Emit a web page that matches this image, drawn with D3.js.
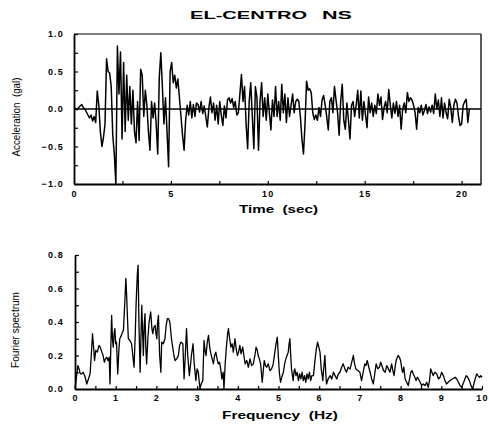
<!DOCTYPE html>
<html><head><meta charset="utf-8">
<script src="https://cdn.jsdelivr.net/npm/d3@7/dist/d3.min.js"></script>
<style>body{margin:0;background:#fff}svg{display:block}</style>
</head><body><svg id="c" width="489" height="425"></svg>
<script>
// ---- data ----
const titleParts = ["EL-CENTRO", "NS"];
const accelDt = 0.08; // sec between samples
const accelValues = [
 0,0.01,-0.01,0.02,0.04,0.06,0.02,0.0,-0.04,-0.08,
 -0.12,-0.08,-0.16,-0.1,-0.18,0.24,0.05,-0.3,-0.5,-0.38,
 -0.2,0.67,0.5,0.48,0.3,-0.35,-0.6,-1.0,0.84,0.2,
 0.76,-0.4,0.62,-0.3,0.45,-0.15,0.3,-0.2,0.25,-0.3,
 -0.45,0.1,-0.42,0.53,0.45,-0.1,0.25,0.05,-0.3,-0.55,
 0.1,-0.12,0.08,-0.2,-0.6,0.42,0.75,0.3,-0.2,0.15,
 -0.3,-0.77,0.5,0.62,0.35,0.45,0.28,0.4,0.15,-0.1,
 -0.35,-0.55,-0.15,0.05,-0.08,0.1,-0.12,0.06,-0.1,0.08,
 0.06,-0.04,0.1,-0.06,0.04,-0.1,-0.24,0.02,0.16,-0.05,
 0.08,-0.15,0.05,-0.2,0.1,-0.08,-0.22,0.04,-0.12,0.12,
 0.15,0.08,0.14,0.02,0.1,-0.08,-0.05,0.2,0.46,0.1,
 0.3,-0.2,-0.53,0.1,0.35,-0.1,-0.53,0.3,0.15,-0.55,
 0.1,0.35,-0.1,0.15,-0.15,0.2,-0.05,-0.28,0.12,-0.1,
 0.3,-0.1,0.1,-0.15,0.33,-0.05,0.2,-0.18,0.15,-0.1,
 0.05,0.2,-0.05,0.1,0.13,0.1,-0.1,-0.4,-0.6,-0.2,
 0.37,0.25,0.27,0.22,-0.05,-0.14,-0.08,-0.15,0.02,-0.1,
 0.12,0.18,0.05,-0.1,-0.28,0.1,0.15,-0.05,0.3,0.12,
 -0.05,-0.35,0.1,0.33,-0.15,-0.27,0.08,-0.15,-0.4,0.05,
 0.1,-0.1,0.05,0.25,-0.12,0.24,-0.15,0.1,-0.08,-0.25,
 0.16,-0.05,0.08,-0.1,0.05,-0.06,0.2,0.05,0.16,-0.14,
 0.02,0.1,-0.05,0.26,0.05,-0.12,0.08,-0.06,0.1,-0.1,
 0.05,-0.27,0.0,0.08,-0.05,0.22,0.1,0.15,0.12,0.05,
 -0.05,-0.27,0.02,-0.05,0.05,-0.08,-0.02,0.06,-0.06,0.03,
 -0.04,0.05,-0.06,0.2,0.0,0.12,-0.1,0.15,-0.12,0.08,
 -0.05,-0.13,0.13,0.02,-0.18,0.05,0.13,0.08,-0.1,-0.22,
 -0.2,0.05,0.1,0.13,-0.18,0.0
];
const specFreq = [
 0,0.03,0.07,0.1,0.13,0.16,0.2,0.25,0.29,0.33,0.37,0.4,0.43,0.46,0.48,0.51,0.55,0.59,0.62,0.66,
 0.69,0.72,0.75,0.78,0.81,0.84,0.86,0.88,0.9,0.92,0.94,0.96,0.98,1.0,1.02,1.05,1.08,1.1,1.14,1.17,
 1.19,1.22,1.25,1.27,1.29,1.31,1.35,1.39,1.42,1.45,1.48,1.5,1.53,1.55,1.57,1.6,1.62,1.64,1.66,1.68,
 1.7,1.72,1.74,1.76,1.79,1.82,1.84,1.86,1.89,1.91,1.94,1.97,1.99,2.01,2.03,2.05,2.08,2.11,2.13,2.17,
 2.21,2.24,2.27,2.3,2.33,2.37,2.4,2.43,2.46,2.5,2.54,2.57,2.6,2.65,2.68,2.71,2.74,2.77,2.81,2.84,
 2.86,2.9,2.93,2.97,3.0,3.03,3.07,3.1,3.14,3.17,3.2,3.22,3.25,3.28,3.31,3.33,3.37,3.4,3.43,3.46,
 3.49,3.52,3.55,3.58,3.61,3.64,3.66,3.69,3.72,3.75,3.77,3.8,3.83,3.86,3.89,3.91,3.93,3.96,3.99,4.02,
 4.05,4.08,4.12,4.15,4.18,4.22,4.26,4.3,4.34,4.38,4.42,4.45,4.48,4.5,4.53,4.56,4.6,4.63,4.65,4.68,
 4.71,4.75,4.79,4.83,4.87,4.91,4.94,4.97,5.0,5.02,5.05,5.08,5.12,5.15,5.18,5.21,5.24,5.26,5.28,5.3,
 5.32,5.36,5.38,5.4,5.43,5.46,5.49,5.52,5.55,5.58,5.61,5.64,5.67,5.7,5.73,5.76,5.79,5.82,5.86,5.9,
 5.93,5.96,5.99,6.02,6.05,6.09,6.11,6.14,6.16,6.18,6.22,6.27,6.31,6.35,6.39,6.43,6.47,6.51,6.55,6.59,
 6.63,6.67,6.71,6.76,6.8,6.84,6.87,6.9,6.95,7.0,7.04,7.08,7.12,7.15,7.18,7.22,7.25,7.29,7.33,7.37,
 7.4,7.44,7.48,7.51,7.54,7.58,7.62,7.66,7.7,7.74,7.78,7.81,7.84,7.87,7.89,7.92,7.94,7.97,8.0,8.03,
 8.05,8.08,8.11,8.15,8.19,8.22,8.25,8.28,8.31,8.35,8.38,8.41,8.44,8.48,8.52,8.56,8.6,8.64,8.68,8.71,
 8.74,8.77,8.8,8.84,8.89,8.93,8.97,9.01,9.05,9.09,9.13,9.17,9.21,9.27,9.34,9.38,9.42,9.46,9.5,9.55,
 9.61,9.65,9.69,9.73,9.77,9.82,9.87,9.9,9.94,9.97,10.0
];
const specAmp = [
 0.0,0.06,0.14,0.12,0.09,0.09,0.1,0.07,0.03,0.06,0.09,0.2,0.33,0.24,0.17,0.23,0.22,0.26,0.25,0.22,
 0.2,0.16,0.18,0.19,0.17,0.19,0.03,0.25,0.44,0.3,0.25,0.33,0.36,0.27,0.28,0.09,0.24,0.3,0.32,0.34,
 0.35,0.5,0.66,0.55,0.42,0.3,0.29,0.27,0.2,0.13,0.32,0.5,0.68,0.74,0.4,0.1,0.3,0.5,0.35,0.2,
 0.38,0.45,0.25,0.15,0.3,0.4,0.43,0.46,0.36,0.33,0.37,0.38,0.33,0.3,0.4,0.44,0.2,0.1,0.28,0.27,
 0.3,0.38,0.42,0.42,0.4,0.3,0.25,0.2,0.17,0.18,0.2,0.26,0.28,0.27,0.06,0.2,0.36,0.2,0.08,0.15,
 0.2,0.27,0.15,0.05,0.12,0.1,0.0,0.03,0.05,0.29,0.22,0.2,0.28,0.32,0.25,0.22,0.18,0.15,0.2,0.22,
 0.18,0.15,0.16,0.12,0.06,0.1,0.0,0.15,0.25,0.33,0.36,0.3,0.25,0.27,0.22,0.26,0.3,0.24,0.2,0.22,
 0.26,0.21,0.25,0.2,0.15,0.17,0.13,0.18,0.14,0.15,0.2,0.25,0.23,0.2,0.18,0.15,0.04,0.12,0.17,0.14,
 0.13,0.15,0.11,0.12,0.15,0.22,0.27,0.31,0.18,0.1,0.04,0.07,0.1,0.15,0.18,0.2,0.22,0.27,0.3,0.2,
 0.12,0.05,0.1,0.12,0.08,0.1,0.05,0.09,0.06,0.1,0.05,0.08,0.04,0.09,0.06,0.1,0.05,0.08,0.08,0.18,
 0.24,0.28,0.25,0.22,0.12,0.05,0.12,0.2,0.1,0.03,0.06,0.08,0.06,0.1,0.08,0.06,0.09,0.1,0.13,0.15,
 0.12,0.1,0.13,0.12,0.16,0.2,0.15,0.12,0.11,0.1,0.05,0.1,0.15,0.14,0.17,0.13,0.1,0.06,0.03,0.1,
 0.15,0.12,0.13,0.16,0.14,0.11,0.1,0.14,0.12,0.1,0.15,0.11,0.08,0.14,0.17,0.19,0.2,0.19,0.17,0.12,
 0.1,0.13,0.06,0.04,0.02,0.06,0.1,0.11,0.09,0.07,0.05,0.07,0.06,0.04,0.02,0.03,0.02,0.04,0.01,0.05,
 0.12,0.1,0.08,0.1,0.09,0.06,0.07,0.1,0.08,0.05,0.03,0.04,0.05,0.06,0.07,0.06,0.04,0.02,0.01,0.04,
 0.08,0.07,0.05,0.02,0.0,0.05,0.09,0.08,0.07,0.08,0.07
];
const timeMinorTicks = [0,2.5,5,7.5,10,12.5,15,17.5,20];
const timeTickLabels = [0,5,10,15,20];
const accelMinorTicks = [-1,-0.75,-0.5,-0.25,0,0.25,0.5,0.75,1];
const accelTickLabels = [-1.0,-0.5,0.0,0.5,1.0];
const freqMinorTicks = [0,0.5,1,1.5,2,2.5,3,3.5,4,4.5,5,5.5,6,6.5,7,7.5,8,8.5,9,9.5,10];
const freqTickLabels = [0,1,2,3,4,5,6,7,8,9,10];
const specMinorTicks = [0,0.1,0.2,0.3,0.4,0.5,0.6,0.7,0.8];
const specTickLabels = [0.0,0.2,0.4,0.6,0.8];
const axisTitles = {time:"Time  (sec)", accel:"Acceleration  (gal)", freq:"Frequency  (Hz)", spec:"Fourier spectrum"};

// ---- drawing ----
const svg = d3.select("#c");
const FONT = "'Liberation Sans', Arial, sans-serif";

const xT = d3.scaleLinear().domain([0,21]).range([74,481]);
const yA = d3.scaleLinear().domain([-1,1]).range([184,34]);
const xF = d3.scaleLinear().domain([0,10]).range([75,482]);
const yS = d3.scaleLinear().domain([0,0.8]).range([389,255]);

function styleAxis(g, sw){
  g.select(".domain").attr("stroke","#000").attr("stroke-width",sw);
  g.selectAll(".tick line").attr("stroke","#000").attr("stroke-width",1.2);
  g.selectAll("text").attr("font-family",FONT).attr("font-size",9).attr("font-weight","bold")
    .attr("letter-spacing","1.2px").attr("fill","#000");
}

// ===== Title =====
svg.append("text").attr("x",190).attr("y",19).attr("font-family",FONT).attr("font-size",11.5)
  .attr("font-weight","bold").attr("textLength",117).attr("lengthAdjust","spacingAndGlyphs")
  .text(titleParts[0]);
svg.append("text").attr("x",322).attr("y",19).attr("font-family",FONT).attr("font-size",11.5)
  .attr("font-weight","bold").attr("textLength",30).attr("lengthAdjust","spacingAndGlyphs")
  .text(titleParts[1]);

// ===== Top panel =====
svg.append("line").attr("x1",xT(0)).attr("x2",xT(21)).attr("y1",yA(1)).attr("y2",yA(1))
  .attr("stroke","#000").attr("stroke-width",1);
svg.append("line").attr("x1",xT(21)).attr("x2",xT(21)).attr("y1",yA(1)).attr("y2",yA(-1))
  .attr("stroke","#000").attr("stroke-width",1.3);

const accelData = accelValues.map((v,i)=>({t:i*accelDt, v}));
svg.append("path").datum(accelData)
  .attr("fill","none").attr("stroke","#000").attr("stroke-width",1.5).attr("stroke-linejoin","round")
  .attr("d", d3.line().x(d=>xT(d.t)).y(d=>yA(d.v)));

svg.append("line").attr("x1",xT(0)).attr("x2",xT(21)).attr("y1",yA(0)).attr("y2",yA(0))
  .attr("stroke","#000").attr("stroke-width",1.7);

const gxT = svg.append("g").attr("transform",`translate(0,${yA(-1)})`)
  .call(d3.axisBottom(xT).tickValues(timeMinorTicks).tickSizeInner(-3).tickSizeOuter(0).tickPadding(7)
    .tickFormat(d=> timeTickLabels.includes(d) ? d3.format("d")(d) : ""));
styleAxis(gxT, 1.8);
const gyA = svg.append("g").attr("transform",`translate(${xT(0)},0)`)
  .call(d3.axisLeft(yA).tickValues(accelMinorTicks).tickSizeInner(-4).tickSizeOuter(0).tickPadding(10)
    .tickFormat(d=> accelTickLabels.includes(d) ? d3.format(".1f")(d) : ""));
styleAxis(gyA, 1.8);

svg.append("text").attr("x",239).attr("y",213).attr("font-family",FONT).attr("font-size",11)
  .attr("font-weight","bold").attr("textLength",79).attr("lengthAdjust","spacingAndGlyphs")
  .style("white-space","pre").text(axisTitles.time);
svg.append("text").attr("transform","translate(20,117) rotate(-90)").attr("text-anchor","middle")
  .attr("font-family",FONT).attr("font-size",10.5).attr("textLength",79).attr("lengthAdjust","spacingAndGlyphs")
  .style("white-space","pre").text(axisTitles.accel);

// ===== Bottom panel =====
const specData = specFreq.map((f,i)=>({f, a:specAmp[i]}));
svg.append("path").datum(specData)
  .attr("fill","none").attr("stroke","#000").attr("stroke-width",1.3).attr("stroke-linejoin","round")
  .attr("d", d3.line().x(d=>xF(d.f)).y(d=>yS(d.a)));

const gxF = svg.append("g").attr("transform",`translate(0,${yS(0)})`)
  .call(d3.axisBottom(xF).tickValues(freqMinorTicks).tickSizeInner(-3).tickSizeOuter(0).tickPadding(6)
    .tickFormat(d=> freqTickLabels.includes(d) ? d3.format("d")(d) : ""));
styleAxis(gxF, 1.8);
const gyS = svg.append("g").attr("transform",`translate(${xF(0)},0)`)
  .call(d3.axisLeft(yS).tickValues(specMinorTicks).tickSizeInner(-4).tickSizeOuter(0).tickPadding(11)
    .tickFormat(d=> specTickLabels.some(v=>Math.abs(v-d)<1e-9) ? d3.format(".1f")(d) : ""));
styleAxis(gyS, 1.8);

svg.append("text").attr("x",222).attr("y",419).attr("font-family",FONT).attr("font-size",10.5)
  .attr("font-weight","bold").attr("textLength",116).attr("lengthAdjust","spacingAndGlyphs")
  .style("white-space","pre").text(axisTitles.freq);
svg.append("text").attr("transform","translate(19,330) rotate(-90)").attr("text-anchor","middle")
  .attr("font-family",FONT).attr("font-size",10.5).attr("textLength",76).attr("lengthAdjust","spacingAndGlyphs")
  .text(axisTitles.spec);
</script></body></html>
